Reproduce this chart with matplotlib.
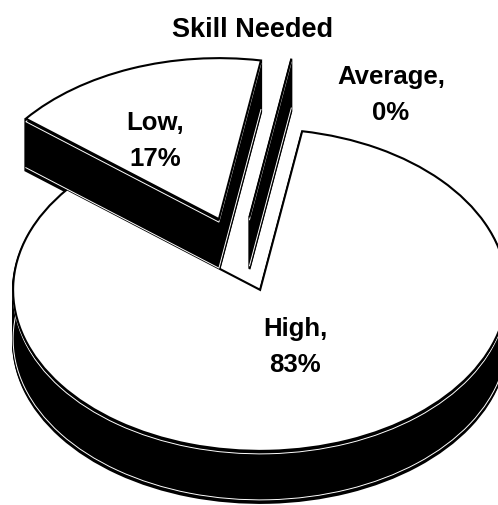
import numpy as np
import matplotlib
matplotlib.use('Agg')
import matplotlib.pyplot as plt

labels = ['Low', 'High', 'Average']
values = [17, 83, 0]
title = 'Skill Needed'

plt.rcParams['font.family'] = ['Liberation Sans', 'DejaVu Sans']

W, H = 498, 505
fig = plt.figure(figsize=(W / 100, H / 100), dpi=100)
ax = fig.add_axes([0, 0, 1, 1])

# pixels per data unit, the pie is squashed to fake the tilt
rx, ry = 247, 161
cx, cy = 239.5, 254.5
depth = 52
explode = [0.235] * len(values)
start = 80.2


def draw(dy, face, edge, lw):
    wedges, _ = ax.pie(values, explode=explode, startangle=start, center=(0, -dy / ry),
                       radius=1, wedgeprops=dict(facecolor=face, edgecolor=edge, linewidth=lw))
    return wedges


# side walls
for d in np.arange(1, depth + 1):
    draw(d, 'black', 'black', 1.5)
# thin white lines just inside the walls
draw(3, 'none', 'white', 0.7)
low = draw(depth - 3, 'none', 'white', 0.7)[0]
# the arc of Low would show on its wall, keep only the straight edges
x0, y0 = low.center
a1, a2 = np.radians([low.theta1, low.theta2])
ax.plot([x0 + np.cos(a1), x0, x0 + np.cos(a2)], [y0 + np.sin(a1), y0, y0 + np.sin(a2)],
        color='white', lw=0.7)
low.remove()
# top faces
draw(0, 'white', 'black', 1.5)

ax.set_aspect('auto')
ax.set_xlim(-cx / rx, (W - cx) / rx)
ax.set_ylim(-(H - cy) / ry, cy / ry)
ax.axis('off')

fig.text(253 / W, 1 - 30 / H, title, fontsize=19.5, fontweight='bold',
         ha='center', va='center')
label_pos = [(155, 141), (295, 347), (391, 95)]
for name, val, (px, py) in zip(labels, values, label_pos):
    fig.text(px / W, 1 - py / H, f'{name},\n{val}%', fontsize=18.5, fontweight='bold',
             ha='center', va='center', linespacing=1.65)

fig.savefig('out.png', dpi=100)
